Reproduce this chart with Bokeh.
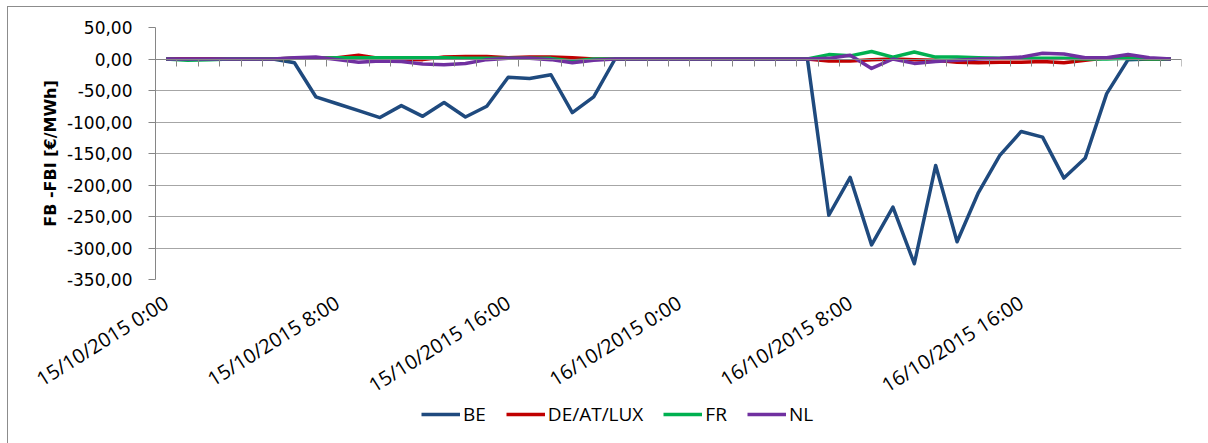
from bokeh.plotting import figure
from bokeh.layouts import column
from bokeh.models import Range1d, LinearAxis, FixedTicker, Legend, LegendItem
from bokeh.embed import file_html
from bokeh.resources import INLINE

# ---- data -------------------------------------------------------------
times = [f"{d}/10/2015 {h}:00" for d in (15, 16) for h in range(24)]

be = [0, 0, 0, 0, 0, 0, -6, -60, -71, -82, -93, -74, -91, -69, -92, -75,
      -29, -31, -25, -85, -60, 0, 0, 0, 0, 0, 0, 0, 0, 0, 0,
      -248, -188, -295, -235, -325, -169, -290, -212, -153, -115, -124,
      -189, -157, -55, -1, 0, 0]
de_at_lux = [0, 0, 0, 0, 0, 0, 1, 1, 2, 6, 1, 0, -1, 3, 4, 4,
             2, 3, 3, 2, 0, 0, 0, 0, 0, 0, 0, 0, 0, 0, 0,
             -3, -3, -1, 0, -1, -2, -5, -6, -5, -5, -4,
             -6, -2, 2, 2, 0, 0]
fr = [0, -2, -1, 0, 0, 0, 1, 1, 2, 2, 2, 2, 2, 2, 1, 1,
      1, 1, 1, -3, 0, 0, 0, 0, 0, 0, 0, 0, 0, 0, 0,
      7, 5, 12, 3, 11, 3, 3, 2, 1, 1, 1,
      1, 0, 0, 1, 0, 0]
nl = [0, 0, 0, 0, 0, 0, 2, 3, -1, -5, -3, -4, -8, -9, -7, -1,
      1, 1, -1, -6, -2, 0, 0, 0, 0, 0, 0, 0, 0, 0, 0,
      1, 6, -15, 0, -7, -4, -2, 0, 1, 3, 9,
      8, 2, 2, 7, 2, 0]

series_names = ["BE", "DE/AT/LUX", "FR", "NL"]
series_values = [be, de_at_lux, fr, nl]
series_colors = ["#1f4a7e", "#c00000", "#00b050", "#7030a0"]

y_ticks = [50, 0, -50, -100, -150, -200, -250, -300, -350]
y_tick_labels = ["50,00", "0,00", "-50,00", "-100,00", "-150,00",
                 "-200,00", "-250,00", "-300,00", "-350,00"]
x_label_step = 8
y_title = "FB -FBI [€/MWh]"

# ---- main figure ------------------------------------------------------
n = len(times)
xs = list(range(n))

p = figure(width=1200, height=410, output_backend="svg", toolbar_location=None,
           x_range=Range1d(-0.5, n - 0.5), y_range=Range1d(-350, 50),
           x_axis_type=None,
           min_border_left=147, min_border_right=27,
           min_border_top=20, min_border_bottom=138)
p.outline_line_color = None
p.background_fill_color = "white"
p.border_fill_color = "white"

axis_gray = "#868686"

yax = p.yaxis[0]
yax.ticker = FixedTicker(ticks=y_ticks)
yax.major_label_overrides = dict(zip(y_ticks, y_tick_labels))
yax.minor_tick_line_color = None
yax.major_tick_in = 0
yax.major_tick_out = 7
yax.axis_line_color = axis_gray
yax.major_tick_line_color = axis_gray
yax.major_label_text_font = "DejaVu Sans"
yax.major_label_text_font_size = "17px"
yax.major_label_text_color = "black"
yax.major_label_standoff = 16
yax.axis_label = y_title
yax.axis_label_text_font = "DejaVu Sans"
yax.axis_label_text_font_size = "16px"
yax.axis_label_text_font_style = "bold"
yax.axis_label_text_color = "black"
yax.axis_label_standoff = 4

p.ygrid.ticker = FixedTicker(ticks=y_ticks)
p.ygrid.grid_line_color = "#a6a6a6"
p.ygrid.grid_line_width = 1

label_ticks = list(range(0, n, x_label_step))
lab_axis = LinearAxis(ticker=FixedTicker(ticks=label_ticks),
                      major_label_overrides={i: times[i] for i in label_ticks},
                      axis_line_color=None, major_tick_line_color=None,
                      minor_tick_line_color=None, major_tick_in=0, major_tick_out=0,
                      major_label_orientation=0.56, major_label_standoff=21,
                      major_label_text_font="Open Sans",
                      major_label_text_font_size="20px",
                      major_label_text_color="black")
p.add_layout(lab_axis, "below")

# category axis crossing at zero (line + boundary ticks pointing down)
bounds = [i - 0.5 for i in range(n + 1)]
zero_axis = LinearAxis(fixed_location=0, ticker=FixedTicker(ticks=bounds),
                       axis_line_color=axis_gray, major_tick_line_color=axis_gray,
                       minor_tick_line_color=None, major_tick_in=0, major_tick_out=7,
                       major_label_overrides={b: "" for b in bounds})
p.add_layout(zero_axis, "below")

for vals, col in zip(series_values, series_colors):
    p.line(xs, vals, line_color=col, line_width=3.5, line_join="round")

# ---- legend strip (overlaps the transparent bottom of the main figure) --
pl = figure(width=1200, height=43, output_backend="svg", toolbar_location=None,
            x_range=Range1d(-0.5, n - 0.5), y_range=Range1d(1000, 1001),
            x_axis_type=None, y_axis_type=None, min_border=0)
pl.outline_line_color = None
pl.background_fill_alpha = 0
pl.border_fill_alpha = 0
pl.styles = {"margin-top": "-17px"}
leg_renderers = [pl.line(xs, vals, line_color=col, line_width=3.5)
                 for vals, col in zip(series_values, series_colors)]
legend = Legend(items=[LegendItem(label=nm, renderers=[r])
                       for nm, r in zip(series_names, leg_renderers)],
                orientation="horizontal", location=(266, 16),
                glyph_width=39, glyph_height=16, label_standoff=3, spacing=20,
                padding=0, margin=0, border_line_color=None,
                background_fill_alpha=0,
                label_text_font="Open Sans", label_text_font_size="19px",
                label_text_color="black")
pl.add_layout(legend, "center")

layout = column(p, pl, spacing=0,
                styles={"margin-left": "7px", "margin-top": "6px",
                        "border-left": "1px solid #8c8c8c",
                        "border-top": "1px solid #8c8c8c"})

open("out.html", "w").write(file_html(layout, INLINE))
